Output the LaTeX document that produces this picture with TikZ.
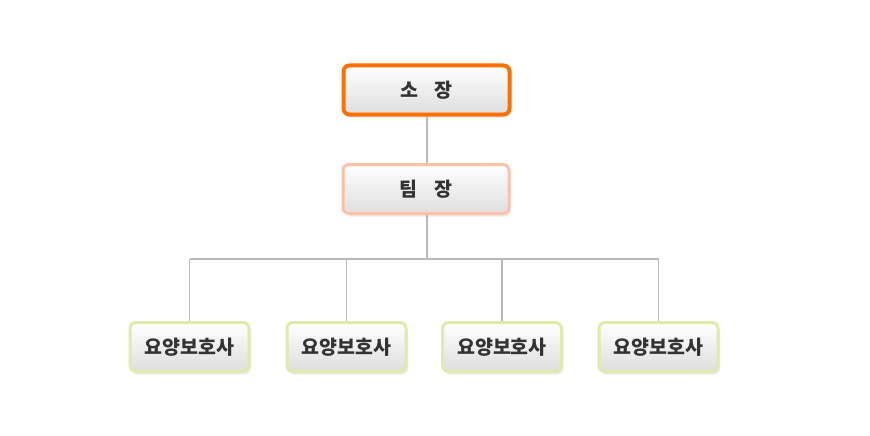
\documentclass[tikz,border=0pt]{standalone}
\usepackage{fontspec}
\newfontfamily\kr{Noto Sans CJK KR}
\usetikzlibrary{shadows}
\begin{document}
\begin{tikzpicture}[x=1pt,y=-1pt,
  box/.style={rounded corners=6pt, top color=white, bottom color=black!13,
    font=\kr\bfseries\fontsize{19.5}{22}\selectfont, text=black!80,
    drop shadow={shadow xshift=2pt, shadow yshift=-3pt, opacity=0.15},
    inner sep=0pt, anchor=center},
  bigbox/.style={box, minimum width=166pt, minimum height=49pt},
  smallbox/.style={box, minimum width=119pt, minimum height=49pt},
  conn/.style={draw=black!27, line width=1.3pt}]
\useasboundingbox[fill=white] (0,0) rectangle (870,436);
\node[bigbox, draw={rgb,255:red,255;green,112;blue,0}, line width=4pt] (a) at (426.5,90) {소\hspace{0.85em}장};
\node[bigbox, draw={rgb,255:red,255;green,192;blue,168}, line width=3pt] (b) at (426,189) {팀\hspace{0.85em}장};
\foreach \n/\x in {c1/189.5, c2/346.5, c3/502, c4/658.5}{
  \node[smallbox, draw={rgb,255:red,226;green,234;blue,170}, line width=3pt] (\n) at (\x,347) {요양보호사};
}
\coordinate (j) at (427,259);
\draw[conn] (a.south -| j) -- (b.north -| j);
\draw[conn] (b.south -| j) -- (j);
\draw[conn] (c1.north |- j) -- (c4.north |- j);
\foreach \n in {c1,c2,c3,c4}{\draw[conn] (\n.north |- j) -- (\n.north);}
\end{tikzpicture}
\end{document}
